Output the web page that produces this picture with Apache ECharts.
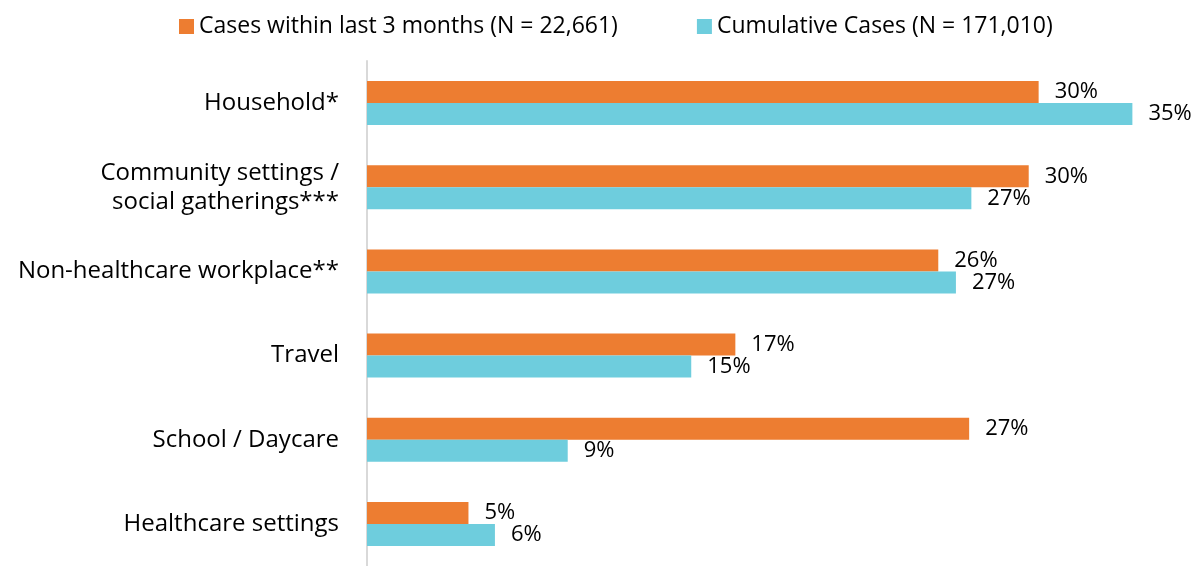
<!DOCTYPE html>
<html>
<head>
<meta charset="utf-8">
<title>Exposure settings</title>
<script src="https://cdn.jsdelivr.net/npm/echarts@6/dist/echarts.min.js"></script>
<style>
  html, body { margin: 0; padding: 0; background: #fff; }
  #chart { width: 1194px; height: 566px; }
</style>
</head>
<body>
<div id="chart"></div>
<script>
// categories, top to bottom
const categories = [
  'Household*',
  'Community settings /\nsocial gatherings***',
  'Non-healthcare workplace**',
  'Travel',
  'School / Daycare',
  'Healthcare settings'
];
const seriesNames = [
  'Cases within last 3 months (N = 22,661)',
  'Cumulative Cases (N = 171,010)'
];
// percent values
const recentCases = [30.45, 30.0, 25.9, 16.7, 27.3, 4.6];
const cumulativeCases = [34.7, 27.4, 26.7, 14.7, 9.1, 5.8];

const FONT = 'Open Sans';

let chart = echarts.init(document.getElementById('chart'));

const valueLabel = {
  show: true,
  position: 'right',
  distance: 16,
  fontFamily: FONT,
  fontSize: 22,
  color: '#000',
  formatter: (p) => Math.round(p.value) + '%'
};

chart.setOption({
  animation: false,
  textStyle: {fontFamily: FONT},
  legend: {
    top: 10,
    left: 174,
    itemWidth: 15,
    itemHeight: 15,
    itemGap: 79,
    icon: 'rect',
    textStyle: {fontFamily: FONT, fontSize: 23, color: '#000'},
    data: seriesNames
  },
  grid: {
    left: 367,
    top: 61,
    width: 772,
    height: 511,
    containLabel: false
  },
  xAxis: {
    type: 'value',
    min: 0,
    max: 35,
    show: false,
    splitLine: {show: false}
  },
  yAxis: {
    type: 'category',
    inverse: true,
    data: categories,
    axisLine: {show: true, lineStyle: {color: '#d9d9d9', width: 2}},
    axisTick: {show: false},
    axisLabel: {
      margin: 28,
      fontFamily: FONT,
      fontSize: 24,
      color: '#000',
      lineHeight: 29,
      align: 'right'
    }
  },
  series: [
    {
      name: seriesNames[0],
      type: 'bar',
      data: recentCases,
      barWidth: 22,
      barGap: '0%',
      itemStyle: {color: '#ed7d31'},
      label: valueLabel
    },
    {
      name: seriesNames[1],
      type: 'bar',
      data: cumulativeCases,
      barWidth: 22,
      barGap: '0%',
      itemStyle: {color: '#6ecddd'},
      label: valueLabel
    }
  ]
});

window.onresize = () => {
  chart && chart.resize();
};
</script>
</body>
</html>
